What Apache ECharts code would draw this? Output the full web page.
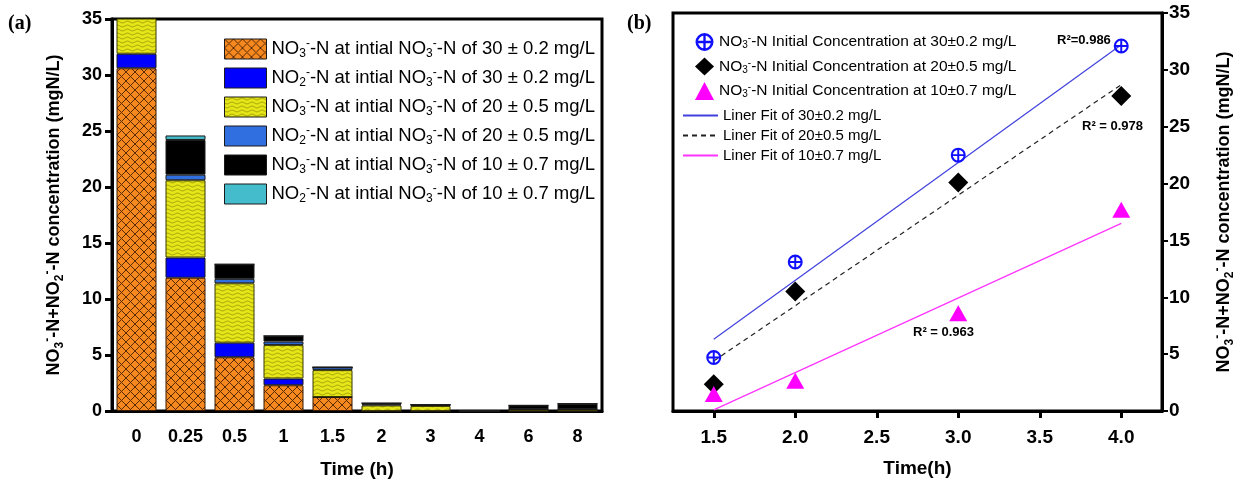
<!DOCTYPE html>
<html>
<head>
<meta charset="utf-8">
<script src="https://cdn.jsdelivr.net/npm/echarts@6/dist/echarts.min.js"></script>
<style>
html,body{margin:0;padding:0;background:#fff;}
#c{width:1241px;height:485px;}
</style>
</head>
<body>
<div id="c"></div>
<script>
// ---------- Data: panel (a) ----------
const categories = ['0', '0.25', '0.5', '1', '1.5', '2', '3', '4', '6', '8'];
const no3_30 = [30.6, 11.9, 4.8, 2.3, 1.25, 0, 0, 0, 0, 0];
const no2_30 = [1.3, 1.8, 1.3, 0.6, 0, 0, 0, 0, 0, 0];
const no3_20 = [19.5, 6.9, 5.3, 3.0, 2.4, 0.5, 0.45, 0, 0.15, 0.15];
const no2_20 = [0.4, 0.5, 0.4, 0.3, 0.25, 0.1, 0.1, 0, 0, 0];
const no3_10 = [9.6, 3.1, 1.3, 0.5, 0, 0.1, 0, 0, 0.35, 0.5];
const no2_10 = [0.3, 0.4, 0, 0, 0, 0, 0, 0, 0, 0];

// ---------- Data: panel (b) ----------
const timeB = [1.5, 2.0, 3.0, 4.0];
const c30 = [4.7, 13.1, 22.5, 32.1];
const c20 = [2.35, 10.5, 20.1, 27.7];
const c10 = [1.5, 2.65, 8.6, 17.7];
const fitX = [1.5, 4.0];
const fit30 = [6.3, 32.2];
const fit20 = [4.4, 28.7];
const fit10 = [0.1, 16.5];
const xTicksB = [1.5, 2.0, 2.5, 3.0, 3.5, 4.0];

// ---------- Patterns ----------
function crossPattern() {
  const c = document.createElement('canvas');
  c.width = 9; c.height = 9;
  const g = c.getContext('2d');
  g.fillStyle = '#f5891f'; g.fillRect(0, 0, 9, 9);
  g.strokeStyle = '#5a2a05'; g.lineWidth = 1;
  g.beginPath(); g.moveTo(0, 0); g.lineTo(9, 9); g.moveTo(9, 0); g.lineTo(0, 9); g.stroke();
  return c;
}
function wavePattern() {
  const c = document.createElement('canvas');
  c.width = 10; c.height = 4;
  const g = c.getContext('2d');
  g.fillStyle = '#e6e619'; g.fillRect(0, 0, 10, 4);
  g.strokeStyle = '#8e8e08'; g.lineWidth = 0.8;
  g.beginPath();
  for (let x = 0; x <= 10; x += 0.5) {
    const y = 2 + 0.9 * Math.sin(x / 10 * 2 * Math.PI);
    if (x === 0) g.moveTo(x, y); else g.lineTo(x, y);
  }
  g.stroke();
  return c;
}
const orangeFill = { image: crossPattern(), repeat: 'repeat' };
const yellowFill = { image: wavePattern(), repeat: 'repeat' };

const FONT = "'Liberation Sans', Arial, sans-serif";
const NARROW = "'Liberation Sans Narrow', 'Liberation Sans', Arial, sans-serif";

const richLegA = {
  n: { fontSize: 18.5, fontFamily: FONT, color: '#000', lineHeight: 22 },
  s: { fontSize: 12, fontFamily: FONT, color: '#000', lineHeight: 10, verticalAlign: 'bottom' },
  p: { fontSize: 12, fontFamily: FONT, color: '#000', lineHeight: 11, verticalAlign: 'top' }
};
const richLegB = {
  n: { fontSize: 15.5, fontFamily: FONT, color: '#000', lineHeight: 17 },
  s: { fontSize: 10, fontFamily: FONT, color: '#000', lineHeight: 8, verticalAlign: 'bottom' },
  p: { fontSize: 10, fontFamily: FONT, color: '#000', lineHeight: 9, verticalAlign: 'top' }
};
const richAxis = {
  n: { fontSize: 18, fontWeight: 'bold', fontFamily: FONT, color: '#000', lineHeight: 24 },
  s: { fontSize: 12, fontWeight: 'bold', fontFamily: FONT, color: '#000', lineHeight: 12, verticalAlign: 'bottom' },
  p: { fontSize: 12, fontWeight: 'bold', fontFamily: FONT, color: '#000', lineHeight: 12, verticalAlign: 'top' }
};
const yName = '{n|NO}{s|3}{p|-}{n|-N+NO}{s|2}{p|-}{n|-N concentration (mgN/L)}';

const namesA = [
  ['no3_30', '{n|NO}{s|3}{p|-}{n|-N at intial NO}{s|3}{p|-}{n|-N of 30 ± 0.2 mg/L}'],
  ['no2_30', '{n|NO}{s|2}{p|-}{n|-N at intial NO}{s|3}{p|-}{n|-N of 30 ± 0.2 mg/L}'],
  ['no3_20', '{n|NO}{s|3}{p|-}{n|-N at intial NO}{s|3}{p|-}{n|-N of 20 ± 0.5 mg/L}'],
  ['no2_20', '{n|NO}{s|2}{p|-}{n|-N at intial NO}{s|3}{p|-}{n|-N of 20 ± 0.5 mg/L}'],
  ['no3_10', '{n|NO}{s|3}{p|-}{n|-N at intial NO}{s|3}{p|-}{n|-N of 10 ± 0.7 mg/L}'],
  ['no2_10', '{n|NO}{s|2}{p|-}{n|-N at intial NO}{s|3}{p|-}{n|-N of 10 ± 0.7 mg/L}']
];
const labelMapA = Object.fromEntries(namesA);
const namesB = [
  ['b30', '{n|NO}{s|3}{p|-}{n|-N Initial Concentration at 30±0.2 mg/L}'],
  ['b20', '{n|NO}{s|3}{p|-}{n|-N Initial Concentration at 20±0.5 mg/L}'],
  ['b10', '{n|NO}{s|3}{p|-}{n|-N Initial Concentration at 10±0.7 mg/L}']
];
const labelMapB = Object.fromEntries(namesB);
const namesFit = [
  ['f30', 'Liner Fit of 30±0.2 mg/L'],
  ['f20', 'Liner Fit of 20±0.5 mg/L'],
  ['f10', 'Liner Fit of 10±0.7 mg/L']
];
const labelMapFit = Object.fromEntries(namesFit);

// circle-with-cross symbol (ring + plus)
const plusCircle = 'path://M10 0A10 10 0 1 1 10 20A10 10 0 1 1 10 0Z' +
  'M10 2.8A7.2 7.2 0 1 0 10 17.2A7.2 7.2 0 1 0 10 2.8Z' +
  'M8.7 2.8H11.3V17.2H8.7Z M2.8 8.7H17.2V11.3H2.8Z';

function barSeries(name, data, color, border) {
  return {
    name: name, type: 'bar', stack: 'a', xAxisIndex: 0, yAxisIndex: 0,
    data: data, barWidth: 40, clip: true,
    itemStyle: { color: color, borderColor: border || '#1a1a1a', borderWidth: 1 }
  };
}

const chart = echarts.init(document.getElementById('c'), null, { renderer: 'canvas' });
const axisLineStyle = { color: '#000', width: 3 };
const option = {
  backgroundColor: '#ffffff',
  animation: false,
  textStyle: { fontFamily: FONT },
  grid: [
    { left: 112, top: 19, width: 490, height: 392, show: true, borderColor: '#000', borderWidth: 3, containLabel: false },
    { left: 673, top: 13, width: 489, height: 398, show: true, borderColor: '#000', borderWidth: 3, containLabel: false }
  ],
  legend: [
    {
      left: 219, top: 33, orient: 'vertical', itemWidth: 42, itemHeight: 20, itemGap: 7, icon: 'rect',
      data: namesA.map(d => d[0]),
      formatter: n => labelMapA[n],
      textStyle: { fontSize: 18.5, color: '#000', rich: richLegA },
      itemStyle: { borderColor: '#1a1a1a', borderWidth: 1 }
    },
    {
      left: 690, top: 28, orient: 'vertical', itemWidth: 19, itemHeight: 18, itemGap: 6.5,
      data: namesB.map(d => d[0]),
      formatter: n => labelMapB[n],
      textStyle: { fontSize: 15.5, color: '#000', rich: richLegB }
    },
    {
      left: 677, top: 103, orient: 'vertical', itemWidth: 35, itemHeight: 12, itemGap: 5,
      data: namesFit.map(d => d[0]),
      formatter: n => labelMapFit[n],
      itemStyle: { opacity: 0 },
      textStyle: { fontSize: 15, color: '#000', fontFamily: FONT, lineHeight: 15 }
    }
  ],
  xAxis: [
    {
      type: 'category', gridIndex: 0, data: categories,
      axisLine: { lineStyle: axisLineStyle },
      axisTick: { alignWithLabel: true, length: 7, lineStyle: { color: '#000', width: 3 } },
      axisLabel: { fontSize: 18, fontWeight: 'bold', color: '#000', margin: 17, fontFamily: FONT },
      name: 'Time (h)', nameLocation: 'middle', nameGap: 49,
      nameTextStyle: { fontSize: 19, fontWeight: 'bold', color: '#000', fontFamily: FONT }
    },
    {
      type: 'value', gridIndex: 1, min: 1.25, max: 4.25,
      axisLine: { onZero: false, lineStyle: axisLineStyle },
      axisTick: { customValues: xTicksB, length: 7, lineStyle: { color: '#000', width: 3 } },
      axisLabel: { customValues: xTicksB, formatter: v => Number(v).toFixed(1), fontSize: 19, fontWeight: 'bold', color: '#000', margin: 17, fontFamily: NARROW },
      splitLine: { show: false },
      name: 'Time(h)', nameLocation: 'middle', nameGap: 48,
      nameTextStyle: { fontSize: 19, fontWeight: 'bold', color: '#000', fontFamily: NARROW }
    }
  ],
  yAxis: [
    {
      type: 'value', gridIndex: 0, min: 0, max: 35, interval: 5,
      axisLine: { show: true, lineStyle: axisLineStyle },
      axisTick: { show: true, length: 7, lineStyle: { color: '#000', width: 3 } },
      axisLabel: { fontSize: 18, fontWeight: 'bold', color: '#000', margin: 10, fontFamily: FONT },
      splitLine: { show: false },
      name: yName, nameLocation: 'middle', nameRotate: 90, nameGap: 46,
      nameTextStyle: { rich: richAxis }
    },
    {
      type: 'value', gridIndex: 1, position: 'right', min: 0, max: 35, interval: 5,
      axisLine: { show: true, onZero: false, lineStyle: axisLineStyle },
      axisTick: { show: true, length: 6, lineStyle: { color: '#000', width: 2 } },
      axisLabel: { fontSize: 19, fontWeight: 'bold', color: '#000', margin: 7, fontFamily: NARROW },
      splitLine: { show: false },
      name: yName, nameLocation: 'middle', nameRotate: 90, nameGap: 50,
      nameTextStyle: { rich: richAxis }
    }
  ],
  series: [
    barSeries('no3_30', no3_30, orangeFill, '#3a1a00'),
    barSeries('no2_30', no2_30, '#0000ff'),
    barSeries('no3_20', no3_20, yellowFill, '#3a3a00'),
    barSeries('no2_20', no2_20, '#2f6fe0'),
    barSeries('no3_10', no3_10, '#000000'),
    barSeries('no2_10', no2_10, '#45bccb'),
    {
      name: 'f30', type: 'line', xAxisIndex: 1, yAxisIndex: 1, symbol: 'none',
      data: fitX.map((x, i) => [x, fit30[i]]),
      lineStyle: { color: '#4040dd', width: 1.2 }, itemStyle: { color: '#4040dd' }
    },
    {
      name: 'f20', type: 'line', xAxisIndex: 1, yAxisIndex: 1, symbol: 'none',
      data: fitX.map((x, i) => [x, fit20[i]]),
      lineStyle: { color: '#222', width: 1.2, type: [5, 4] }, itemStyle: { color: '#222' }
    },
    {
      name: 'f10', type: 'line', xAxisIndex: 1, yAxisIndex: 1, symbol: 'none',
      data: fitX.map((x, i) => [x, fit10[i]]),
      lineStyle: { color: '#ff33ff', width: 1.2 }, itemStyle: { color: '#ff33ff' }
    },
    {
      name: 'b30', type: 'scatter', xAxisIndex: 1, yAxisIndex: 1,
      symbol: plusCircle, symbolSize: 15,
      data: timeB.map((x, i) => [x, c30[i]]),
      itemStyle: { color: '#1010ff', opacity: 1 }, z: 5
    },
    {
      name: 'b20', type: 'scatter', xAxisIndex: 1, yAxisIndex: 1,
      symbol: 'diamond', symbolSize: 20,
      data: timeB.map((x, i) => [x, c20[i]]),
      itemStyle: { color: '#000', opacity: 1 }, z: 4
    },
    {
      name: 'b10', type: 'scatter', xAxisIndex: 1, yAxisIndex: 1,
      symbol: 'triangle', symbolSize: [18, 16],
      data: timeB.map((x, i) => [x, c10[i]]),
      itemStyle: { color: '#ff00ff', opacity: 1 }, z: 6
    }
  ],
  graphic: [
    { type: 'text', left: 8, top: 14, style: { text: '(a)', font: 'bold 20px "Liberation Serif", "Times New Roman", serif', fill: '#000' } },
    { type: 'text', left: 627, top: 14, style: { text: '(b)', font: 'bold 20px "Liberation Serif", "Times New Roman", serif', fill: '#000' } },
    { type: 'text', left: 1057, top: 34, style: { text: 'R²=0.986', font: 'bold 13px ' + NARROW, fill: '#000' } },
    { type: 'text', left: 1082, top: 120, style: { text: 'R² = 0.978', font: 'bold 13px ' + NARROW, fill: '#000' } },
    { type: 'text', left: 913, top: 326, style: { text: 'R² = 0.963', font: 'bold 13px ' + NARROW, fill: '#000' } }
  ]
};
chart.setOption(option);
</script>
</body>
</html>
